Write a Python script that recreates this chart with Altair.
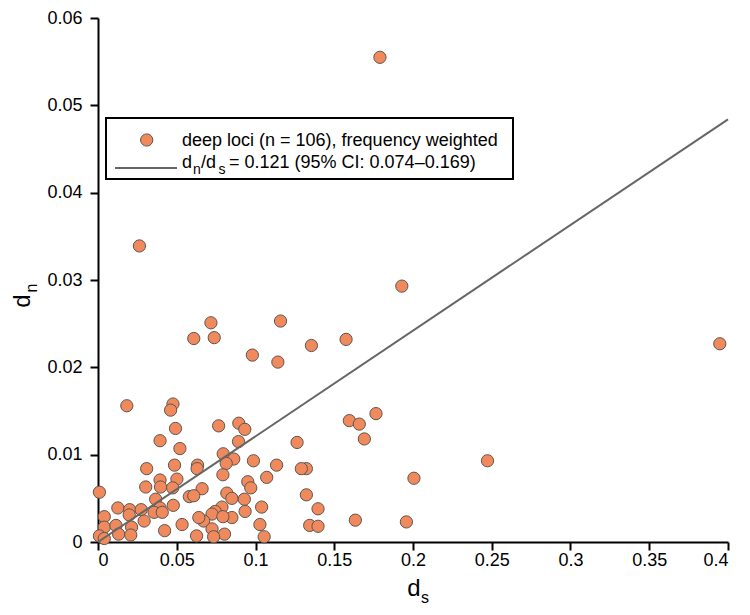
import altair as alt
import pandas as pd

# d_s (x) and d_n (y) values
ds = [0.179, 0.0263, 0.1929, 0.3948, 0.0717, 0.1159, 0.0608, 0.0738, 0.1355, 0.1575,
      0.0980, 0.1142, 0.0183, 0.0476, 0.0461, 0.1596, 0.1659, 0.1765, 0.1691, 0.2006,
      0.2473, 0.1323, 0.1323, 0.1397, 0.1344, 0.1397, 0.1634, 0.1958, 0.0766, 0.0894,
      0.0932, 0.0892, 0.0795, 0.0862, 0.0814, 0.0987, 0.1134, 0.1264, 0.1291, 0.0793,
      0.1071, 0.0951, 0.0970, 0.0661, 0.0818, 0.0850, 0.0929, 0.1039, 0.0787, 0.0744,
      0.0724, 0.0934, 0.0850, 0.0793, 0.0671, 0.0640, 0.1028, 0.0724, 0.0803, 0.0734,
      0.1055, 0.0626, 0.0492, 0.0394, 0.0520, 0.0309, 0.0486, 0.0632, 0.0629, 0.0303,
      0.0394, 0.0397, 0.0501, 0.0474, 0.0009, 0.0580, 0.0608, 0.0366, 0.0126, 0.0201,
      0.0274, 0.0394, 0.0478, 0.0356, 0.0408, 0.0040, 0.0198, 0.0293, 0.0040, 0.0114,
      0.0213, 0.0534, 0.0009, 0.0131, 0.0208, 0.0423, 0.0040]
dn = [0.0555, 0.0339, 0.0293, 0.0227, 0.0251, 0.0253, 0.0233, 0.0234, 0.0225, 0.0232,
      0.0214, 0.0206, 0.0156, 0.0158, 0.0151, 0.0139, 0.0135, 0.0147, 0.0118, 0.0073,
      0.0093, 0.0084, 0.0054, 0.0038, 0.0019, 0.0018, 0.0025, 0.0023, 0.0133, 0.0136,
      0.0129, 0.0115, 0.0101, 0.0095, 0.0090, 0.0093, 0.0088, 0.0114, 0.0084, 0.0077,
      0.0074, 0.0069, 0.0062, 0.0061, 0.0056, 0.0050, 0.0049, 0.0040, 0.0040, 0.0035,
      0.0032, 0.0035, 0.0028, 0.0029, 0.0024, 0.0028, 0.0020, 0.0015, 0.0009, 0.0006,
      0.0006, 0.0007, 0.0130, 0.0116, 0.0107, 0.0084, 0.0088, 0.0088, 0.0084, 0.0063,
      0.0071, 0.0063, 0.0072, 0.0062, 0.0057, 0.0052, 0.0053, 0.0049, 0.0039, 0.0037,
      0.0037, 0.0039, 0.0042, 0.0034, 0.0034, 0.0029, 0.0031, 0.0024, 0.0017, 0.0019,
      0.0017, 0.0020, 0.0007, 0.0009, 0.0008, 0.0013, 0.0004]

slope = 0.121
line_ds = [0.0, 0.4]
x_ticks = [0, 0.05, 0.1, 0.15, 0.2, 0.25, 0.3, 0.35, 0.4]
y_ticks = [0, 0.01, 0.02, 0.03, 0.04, 0.05, 0.06]

legend_point_label = "deep loci (n = 106), frequency weighted"
legend_line_rest = "= 0.121 (95% CI: 0.074\u20130.169)"

FONT = "Liberation Sans"
FILL = "#F08A5D"
EDGE = "#5E5550"

pts = pd.DataFrame({"ds": ds, "dn": dn})
line_df = pd.DataFrame({"ds": line_ds, "dn": [slope * v for v in line_ds]})
one = pd.DataFrame({"k": [0]})

xs = alt.Scale(domain=[0, 0.4], nice=False, zero=False)
ys = alt.Scale(domain=[0, 0.06], nice=False, zero=False)

axis_common = dict(format="~g", title=None, grid=False, domainColor="black",
                   domainWidth=2, tickColor="black", tickWidth=2, tickSize=8,
                   labelFont=FONT, labelFontSize=18, labelColor="black")

x_axis = alt.Axis(values=x_ticks, labelPadding=1, **axis_common)
y_axis = alt.Axis(values=y_ticks, labelPadding=8, **axis_common)

points = alt.Chart(pts).mark_circle(size=150, color=FILL, opacity=1,
                                    stroke=EDGE, strokeWidth=1).encode(
    x=alt.X("ds:Q", scale=xs, axis=x_axis),
    y=alt.Y("dn:Q", scale=ys, axis=y_axis),
)

fit = alt.Chart(line_df).mark_line(color="#666666", strokeWidth=2).encode(
    x=alt.X("ds:Q", scale=xs), y=alt.Y("dn:Q", scale=ys)
)

def txt(s, x, y, size=18, angle=None, align="left"):
    kw = dict(font=FONT, fontSize=size, color="black", align=align, baseline="middle")
    if angle is not None:
        kw["angle"] = angle
    return alt.Chart(one).mark_text(**kw).encode(
        x=alt.value(x), y=alt.value(y), text=alt.value(s))

# legend frame (page coords minus plot origin at 98, 18)
legend_box = alt.Chart(one).mark_rect(fill="white", stroke="black", strokeWidth=2).encode(
    x=alt.value(8), x2=alt.value(415), y=alt.value(100), y2=alt.value(161))
legend_dot = alt.Chart(one).mark_circle(size=150, color=FILL, opacity=1,
                                        stroke=EDGE, strokeWidth=1).encode(
    x=alt.value(48.7), y=alt.value(122))
legend_line = alt.Chart(one).mark_rule(color="#666666", strokeWidth=2).encode(
    x=alt.value(17), x2=alt.value(79), y=alt.value(150))

layers = [
    points, fit, legend_box, legend_dot, legend_line,
    txt(legend_point_label, 84, 123),
    txt("d", 84, 145), txt("n", 95, 152, size=14),
    txt("/d", 103, 145), txt("s", 120.5, 152, size=14),
    txt(legend_line_rest, 131, 145),
    # axis titles with subscripts
    txt("d", 316, 571, size=24, align="center"), txt("s", 327, 580, size=16, align="center"),
    txt("d", -75, 283, size=24, angle=270, align="center"),
    txt("n", -66, 270, size=16, angle=270, align="center"),
]

chart = alt.layer(*layers).properties(
    width=630, height=524,
    autosize=alt.AutoSizeParams(type="none"),
    padding={"left": 90, "top": 10, "right": 14, "bottom": 65},
).configure_view(stroke=None)

chart.save("out.html", embed_options={"renderer": "svg", "actions": False})
